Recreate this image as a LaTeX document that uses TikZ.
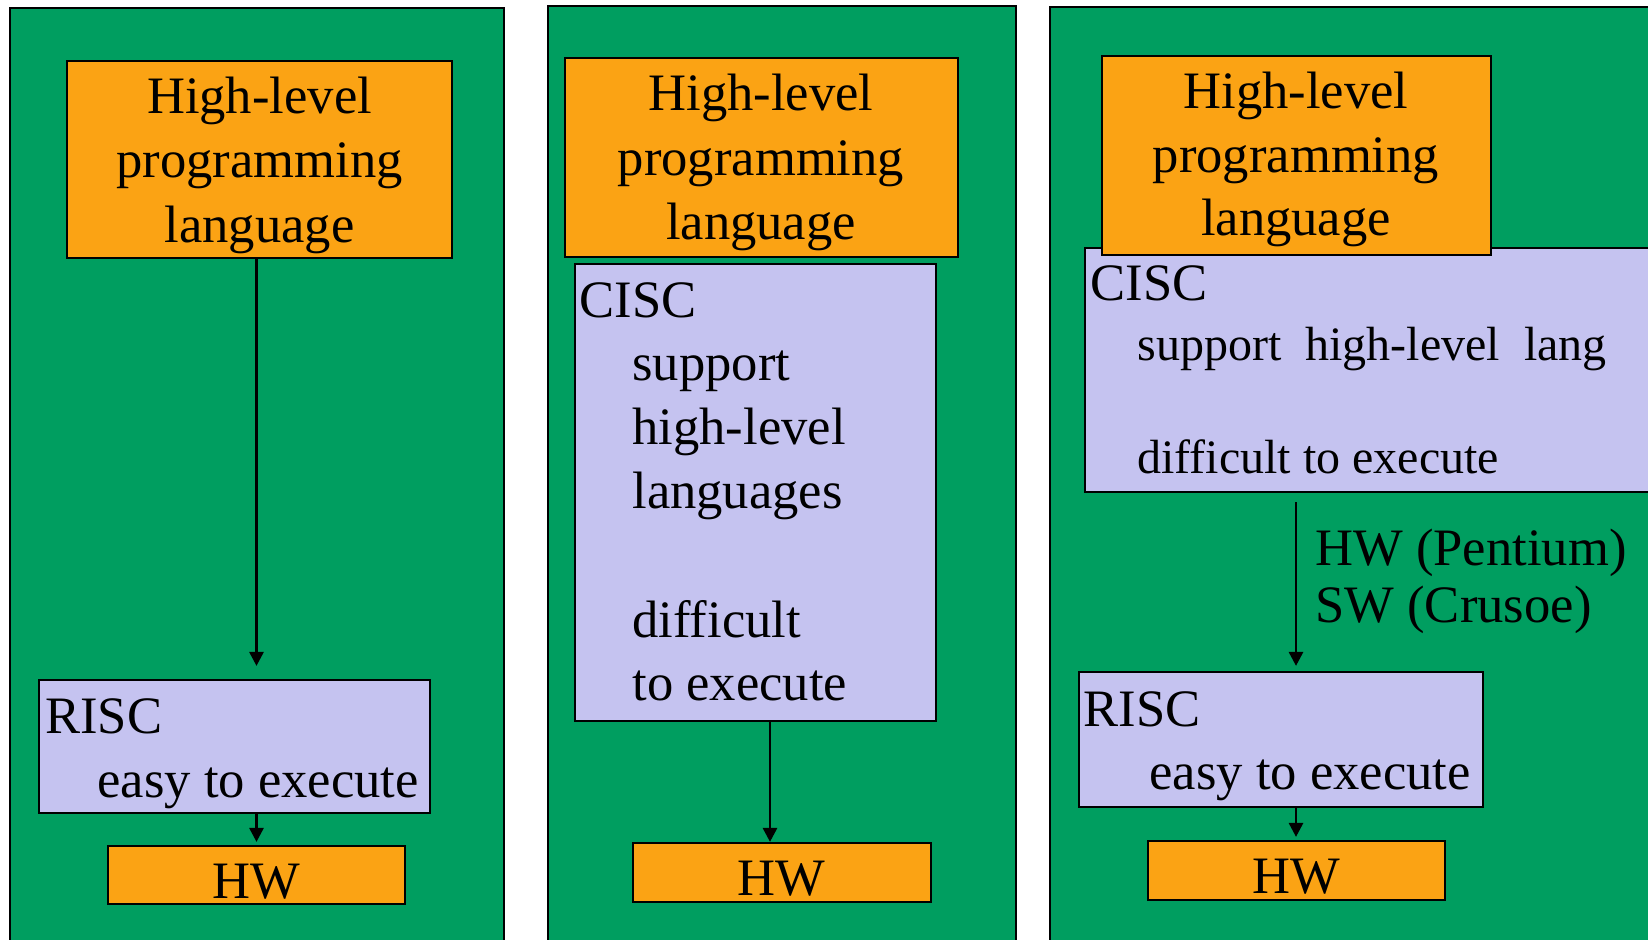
\documentclass[tikz,border=0pt]{standalone}
\usepackage{fontspec}
\setmainfont{Liberation Serif}
\usetikzlibrary{fit,arrows.meta}

\definecolor{panelgreen}{RGB}{0,158,96}
\definecolor{boxorange}{RGB}{251,163,20}
\definecolor{boxlilac}{RGB}{197,195,240}

\tikzset{
  panel/.style={draw=black, line width=0.6pt, fill=panelgreen, inner sep=0pt},
  obox/.style={draw=black, line width=1.1pt, fill=boxorange, inner sep=0pt},
  lbox/.style={draw=black, line width=1.1pt, fill=boxlilac, inner sep=0pt},
  txt/.style={inner sep=0pt, font=\fontsize{26.3pt}{32pt}\selectfont},
  stxt/.style={inner sep=0pt, font=\fontsize{24pt}{30pt}\selectfont},
  arr/.style={line width=1.4pt, -{Triangle[length=7pt,width=7pt]}}
}

\begin{document}
\begin{tikzpicture}[x=0.5pt, y=-0.5pt]
\useasboundingbox (0,0) rectangle (1648,939);

% ---------- three green panels ----------
\node[panel, fit={(10,8) (504,960)}] (p1) {};
\node[panel, fit={(548,6) (1016,960)}] (p2) {};
\node[panel, fit={(1050,7) (1680,960)}] (p3) {};

% ---------- panel 1: direct RISC ----------
\node[obox, fit={(67,61) (452,258)}] (hl1) {};
\node[lbox, fit={(39,680) (430,813)}] (risc1) {};
\node[obox, fit={(108,846) (405,904)}] (hw1) {};

\node[txt, anchor=base] (hl1a) at (259.5,113) {High-level};
\node[txt, anchor=base] (hl1b) at (259.5,177) {programming};
\node[txt, anchor=base] (hl1c) at (259.5,242) {language};
\node[txt, anchor=base west] (risc1a) at (45,733) {RISC};
\node[txt, anchor=base west] (risc1b) at (97,797) {easy to execute};
\node[txt, anchor=base] (hw1a) at (256.5,898) {HW};

\draw[arr, shorten >=6.5pt] (hw1.north |- hl1.south) -- (hw1.north |- risc1.north);
\draw[arr, shorten >=1.5pt] (hw1.north |- risc1.south) -- (hw1.north);

% ---------- panel 2: CISC ----------
\node[obox, fit={(565,58) (958,257)}] (hl2) {};
\node[lbox, fit={(575,264) (936,721)}] (cisc2) {};
\node[obox, fit={(633,843) (931,902)}] (hw2) {};

\node[txt, anchor=base] (hl2a) at (761,110) {High-level};
\node[txt, anchor=base] (hl2b) at (761,175) {programming};
\node[txt, anchor=base] (hl2c) at (761,239) {language};
\node[txt, anchor=base west] (cisc2a) at (579,317) {CISC};
\node[txt, anchor=base west] (cisc2b) at (632,380) {support};
\node[txt, anchor=base west] (cisc2c) at (632,444) {high-level};
\node[txt, anchor=base west] (cisc2d) at (632,508) {languages};
\node[txt, anchor=base west] (cisc2e) at (632,637) {difficult};
\node[txt, anchor=base west] (cisc2f) at (632,700) {to execute};
\node[txt, anchor=base] (hw2a) at (781,895) {HW};

\coordinate (ax2) at (770,0);
\draw[arr] (ax2 |- cisc2.south) -- (ax2 |- hw2.north);

% ---------- panel 3: CISC translated to RISC ----------
\node[lbox, fit={(1085,248) (1680,492)}] (cisc3) {};
\node[obox, fit={(1102,56) (1491,255)}] (hl3) {};
\node[lbox, fit={(1079,672) (1483,807)}] (risc3) {};
\node[obox, fit={(1148,841) (1445,900)}] (hw3) {};

\node[txt, anchor=base] (hl3a) at (1296,108) {High-level};
\node[txt, anchor=base] (hl3b) at (1296,172) {programming};
\node[txt, anchor=base] (hl3c) at (1296,235) {language};
\node[txt, anchor=base west] (cisc3a) at (1090,300) {CISC};
\node[stxt, anchor=base west] (cisc3b) at (1137,360) {support\ \ high-level\ \ lang};
\node[stxt, anchor=base west] (cisc3c) at (1137,473) {difficult to execute};
\node[txt, anchor=base west] (trA) at (1315,565) {HW (Pentium)};
\node[txt, anchor=base west] (trB) at (1315,622) {SW (Crusoe)};
\node[txt, anchor=base west] (risc3a) at (1083,726) {RISC};
\node[txt, anchor=base west] (risc3b) at (1149,789) {easy to execute};
\node[txt, anchor=base] (hw3a) at (1296,893) {HW};

\coordinate (ax3) at (1296,0);
\draw[arr, shorten <=4.5pt, shorten >=2.5pt] (ax3 |- cisc3.south) -- (ax3 |- risc3.north);
\draw[arr, shorten >=1.5pt] (ax3 |- risc3.south) -- (ax3 |- hw3.north);
\end{tikzpicture}
\end{document}
